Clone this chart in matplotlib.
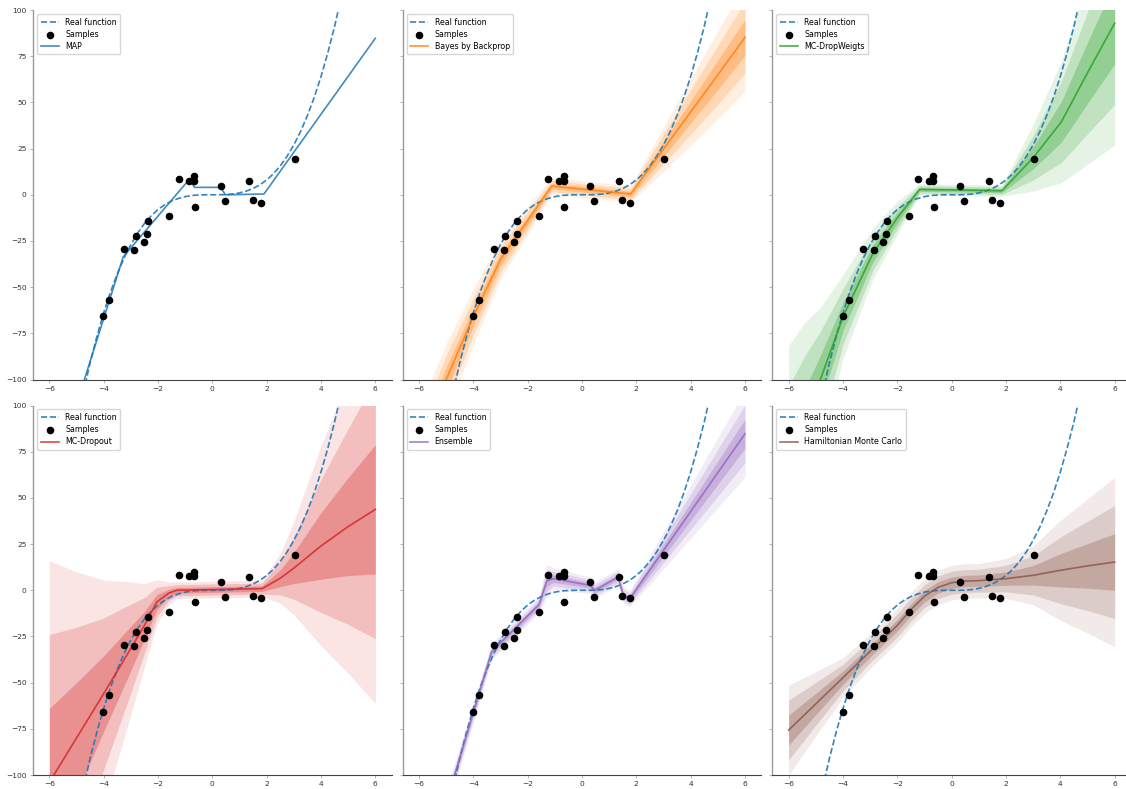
import numpy as np
import matplotlib.pyplot as plt

# samples
sample_x = [-4.01, -3.79, -3.25, -2.87, -2.82, -2.52, -2.40, -2.38, -1.58, -1.24,
            -0.84, -0.67, -0.67, -0.65, 0.31, 0.45, 1.36, 1.48, 1.78, 3.03]
sample_y = [-65.7, -56.7, -29.6, -30.1, -22.4, -25.8, -21.5, -14.3, -11.7, 8.5,
            7.6, 9.9, 7.6, -6.5, 4.7, -3.4, 7.2, -3.1, -4.3, 19.3]

# real function (dashed)
real_x = np.arange(-4.75, 4.76, 0.25)
real_y = [-107.2, -91.1, -76.8, -64.0, -52.7, -42.9, -34.3, -27.0, -20.8, -15.6,
          -11.4, -8.0, -5.4, -3.4, -2.0, -1.0, -0.4, -0.1, 0.0, 0.0,
          0.0, 0.1, 0.4, 1.0, 2.0, 3.4, 5.4, 8.0, 11.4, 15.6,
          20.8, 27.0, 34.3, 42.9, 52.7, 64.0, 76.8, 91.1, 107.2]

# MAP
map_x = [-6, -3.28, -0.85, -0.65, 0.31, 0.48, 1.9, 6]
map_y = [-160, -33.6, 8.3, 4.0, 4.0, 0.0, 0.4, 84.7]

# Bayes by Backprop
bbb_x = [-6, -5, -4, -3, -2, -1.12, 1.79, 3, 4, 5, 6]
bbb_mean = [-140, -100, -66, -35, -14, 4.7, 0.4, 24.7, 44.8, 64.9, 85.2]
bbb_std = [8, 6.5, 5, 3.5, 2.5, 1.5, 1.5, 4, 6, 8, 9.7]

# MC-DropWeights
dw_x = [-6, -5.4, -4.83, -3.99, -2.9, -2.0, -1.18, 1.85, 3.0, 4.04, 5.0, 6]
dw_mean = [-147.7, -123, -100, -65.7, -31.8, -12.5, 2.9, 2.2, 20, 39.5, 66, 92.8]
dw_std = [22, 18, 13, 7.5, 4.6, 3, 1, 1, 6, 11, 16.5, 22]

# MC-Dropout
do_x = [-6, -5, -4, -3, -2.5, -2.04, -1.6, -1.3, 1.83, 2.5, 3, 4, 5, 6]
do_mean = [-104, -80, -56, -31.5, -19, -6.3, -1.5, 0, 0.9, 6.5, 12, 24, 34.5, 43.8]
do_std = [40, 30, 20.5, 12, 7.5, 4, 2, 1.5, 1.5, 4.5, 8.4, 18, 26.5, 35]

# Ensemble
ens_x = [-6, -4.69, -3.33, -1.58, -1.3, -1.06, 0.29, 0.47, 1.33, 1.52, 1.76, 6]
ens_mean = [-160, -100, -33.3, -7.7, 5, 6.3, 2.7, 0, 7.2, -2.7, -4.5, 84.7]
ens_std = [3, 2, 1.5, 1.5, 3, 2, 1.5, 1.5, 1.5, 1.5, 1.5, 7.8]

# Hamiltonian Monte Carlo
hmc_x = [-6, -5, -4, -3, -2, -1.5, -1, -0.5, 0, 0.5, 1, 2, 3, 4, 5, 6]
hmc_mean = [-75.7, -61.5, -47.3, -33, -19, -10.5, -3.2, 1.6, 4.1, 5, 5.2, 6.3, 8.1, 10.8, 13.2, 15.3]
hmc_std = [8.1, 5.8, 3.6, 3.1, 3.1, 3.1, 3.1, 3.1, 3.1, 3.1, 3.1, 3.6, 5.3, 9, 12.1, 15.3]

plt.rcParams['font.size'] = 5.5

fig, axes = plt.subplots(2, 3, figsize=(11.26, 7.89), dpi=100, sharey=True)
fig.subplots_adjust(left=0.0293, right=1.0044, top=0.9873, bottom=0.0177,
                    wspace=0.0307, hspace=0.0704)

models = [
    ("MAP", "C0", map_x, map_y, None),
    ("Bayes by Backprop", "C1", bbb_x, bbb_mean, bbb_std),
    ("MC-DropWeigts", "C2", dw_x, dw_mean, dw_std),
    ("MC-Dropout", "C3", do_x, do_mean, do_std),
    ("Ensemble", "C4", ens_x, ens_mean, ens_std),
    ("Hamiltonian Monte Carlo", "C5", hmc_x, hmc_mean, hmc_std),
]

for ax, (name, col, x, mean, std) in zip(axes.flat, models):
    x = np.array(x)
    mean = np.array(mean)
    if std is not None:
        std = np.array(std)
        for k, a in [(3, 0.12), (2, 0.2), (1, 0.3)]:
            ax.fill_between(x, mean - k * std, mean + k * std, color=col, alpha=a, lw=0)
    ax.plot(real_x, real_y, '--', color='C0', lw=1.2, alpha=0.9, label="Real function")
    ax.scatter(sample_x, sample_y, s=20, color='black', zorder=5, label="Samples")
    ax.plot(x, mean, color=col, lw=1.2, alpha=0.85, label=name)

    ax.set_xlim(-6.6, 6.6)
    ax.set_ylim(-100, 100)
    ax.set_xticks([-6, -4, -2, 0, 2, 4, 6])
    ax.set_yticks([-100, -75, -50, -25, 0, 25, 50, 75, 100])
    ax.spines['top'].set_visible(False)
    ax.spines['right'].set_visible(False)
    ax.spines['left'].set_color('#999999')
    ax.spines['left'].set_linewidth(1.0)
    ax.spines['bottom'].set_color('#444444')
    ax.tick_params(length=2.5, width=0.6, color='#aaaaaa', labelcolor='#333333',
                   labelsize=5.4, pad=2)
    ax.legend(loc='upper left', fontsize=5.7, handlelength=2.3, borderpad=0.45,
              labelspacing=0.4, handletextpad=0.8, framealpha=0.8,
              edgecolor='#cccccc', fancybox=True)

fig.savefig("out.png", dpi=100)
